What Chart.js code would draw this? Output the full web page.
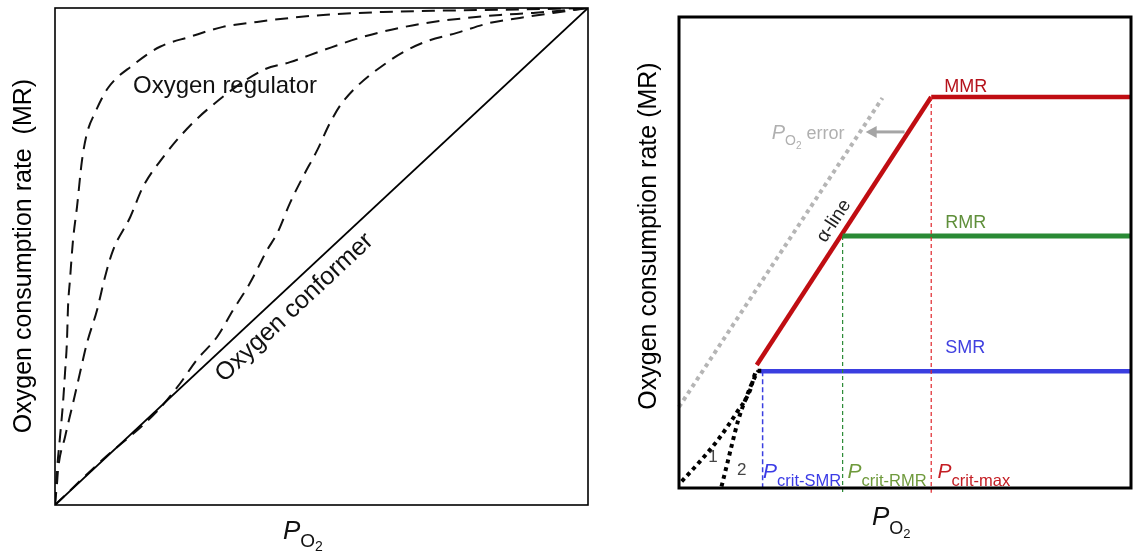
<!DOCTYPE html>
<html>
<head>
<meta charset="utf-8">
<script src="https://cdn.jsdelivr.net/npm/chart.js@4"></script>
<style>
  body { margin: 0; background: #fff; }
  canvas { position: absolute; top: 0; }
  #left { left: 0; }
  #right { left: 620px; }
</style>
</head>
<body>
<canvas id="left" width="600" height="552"></canvas>
<canvas id="right" width="514" height="552"></canvas>
<script>
// --- left panel: regulator vs conformer (arbitrary units 0-100) ---
const conformerX = [0, 100];
const conformerY = [0, 100];
const reg1X = [0, 0.38, 0.94, 1.5, 1.88, 2.25, 2.44, 2.81, 3.38, 4.13, 5.07, 6.0, 7.5, 9.94, 14.6, 19.7, 25.3, 31.5, 37.9, 44.1, 50.3, 61.5, 74.1, 86.7, 100];
const reg1Y = [0, 7.0, 13.7, 20.5, 26.6, 33.2, 39.8, 45.3, 53.3, 60.0, 69.4, 74.8, 78.9, 83.9, 88.5, 92.2, 94.2, 96.2, 97.2, 98.0, 98.6, 99.2, 99.5, 99.7, 100];
const reg2X = [0, 0.38, 0.56, 1.88, 3.38, 4.69, 6.0, 7.88, 9.38, 10.9, 14.1, 16.5, 20.3, 24.0, 28.5, 39.0, 44.1, 50.3, 57.8, 64.7, 70.9, 77.3, 83.5, 89.7, 100];
const reg2Y = [0, 4.4, 7.0, 13.7, 20.5, 26.6, 32.6, 39.2, 45.9, 51.3, 57.9, 64.0, 70.0, 74.8, 79.5, 87.5, 89.1, 91.5, 94.2, 96.0, 97.2, 98.0, 98.6, 99.0, 100];
const reg3X = [0, 8.4, 19.1, 23.5, 26.6, 30.4, 33.4, 36.6, 39.8, 41.7, 44.1, 46.5, 49.2, 51.6, 54.0, 62.9, 69.0, 75.4, 81.6, 87.2, 93.4, 100];
const reg3Y = [0, 8.6, 18.8, 24.5, 29.2, 33.8, 39.2, 44.7, 51.3, 54.7, 60.8, 66.0, 71.4, 76.9, 81.1, 89.5, 93.0, 95.0, 97.0, 98.0, 99.0, 100];

// --- right panel: Pcrit diagram ---
const smrLevel = 24.8;
const rmrLevel = 53.5;
const mmrLevel = 83.0;
const pcritSMR = 18.5;
const pcritRMR = 36.2;
const pcritMax = 55.8;
const alphaX = [17.2, 55.8];
const alphaY = [26.1, 83.0];
const errorX = [0, 45.0];
const errorY = [17.2, 82.8];
const dot1X = [0.6, 4.6, 8.6, 12.7, 15.7, 16.8, 17.2, 18.2];
const dot1Y = [1.4, 5.6, 10.2, 15.9, 20.7, 24.2, 24.9, 24.9];
const dot2X = [9.4, 10.5, 11.6, 13.1, 14.9, 16.8, 17.6];
const dot2Y = [0.3, 4.5, 8.8, 14.4, 19.3, 23.6, 24.9];

const FONT = '"Liberation Sans", Arial, sans-serif';

function pts(xs, ys) {
  return xs.map((x, i) => ({ x: x, y: ys[i] }));
}

// text with subscript pieces: [{t, size, dy, italic}]
function drawParts(ctx, x, y, parts, color) {
  ctx.fillStyle = color;
  ctx.textBaseline = 'alphabetic';
  ctx.textAlign = 'left';
  parts.forEach(p => {
    ctx.font = (p.italic ? 'italic ' : '') + p.size + 'px ' + FONT;
    ctx.fillText(p.t, x, y + (p.dy || 0));
    x += ctx.measureText(p.t).width;
  });
}

function baseOptions(pad) {
  return {
    responsive: false,
    animation: false,
    layout: { padding: pad },
    elements: { point: { radius: 0 } },
    plugins: { legend: { display: false }, tooltip: { enabled: false } },
    scales: {
      x: { type: 'linear', min: 0, max: 100, display: false },
      y: { type: 'linear', min: 0, max: 100, display: false }
    }
  };
}

const leftDecor = {
  id: 'leftDecor',
  afterDatasetsDraw(chart) {
    const ctx = chart.ctx, a = chart.chartArea;
    const xs = chart.scales.x, ys = chart.scales.y;
    ctx.save();
    ctx.strokeStyle = '#000';
    ctx.lineWidth = 1.6;
    ctx.strokeRect(a.left, a.top, a.right - a.left, a.bottom - a.top);

    ctx.fillStyle = '#111';
    ctx.font = '24px ' + FONT;
    ctx.fillText('Oxygen regulator', 133, 93);

    // label along conformer line
    const x0 = xs.getPixelForValue(0), y0 = ys.getPixelForValue(0);
    const x1 = xs.getPixelForValue(100), y1 = ys.getPixelForValue(100);
    const ang = Math.atan2(y1 - y0, x1 - x0);
    const px = xs.getPixelForValue(42.5), py = ys.getPixelForValue(42.5);
    ctx.translate(px, py);
    ctx.rotate(ang);
    ctx.textAlign = 'center';
    ctx.textBaseline = 'alphabetic';
    ctx.font = '25px ' + FONT;
    ctx.fillText('Oxygen conformer', 0, 26);
    ctx.restore();

    ctx.save();
    ctx.translate(24, 256);
    ctx.rotate(-Math.PI / 2);
    ctx.fillStyle = '#000';
    ctx.textAlign = 'center';
    ctx.textBaseline = 'middle';
    ctx.font = '25px ' + FONT;
    ctx.fillText('Oxygen consumption rate  (MR)', 0, 0);
    ctx.restore();

    ctx.save();
    drawParts(ctx, 283, 539, [
      { t: 'P', size: 26, italic: true },
      { t: 'O', size: 19, dy: 8 },
      { t: '2', size: 14, dy: 12 }
    ], '#111');
    ctx.restore();
  }
};

new Chart(document.getElementById('left'), {
  type: 'line',
  data: {
    datasets: [
      { data: pts(conformerX, conformerY), borderColor: '#000', borderWidth: 1.8 },
      { data: pts(reg1X, reg1Y), borderColor: '#111', borderWidth: 2, borderDash: [13, 8], cubicInterpolationMode: 'monotone' },
      { data: pts(reg2X, reg2Y), borderColor: '#111', borderWidth: 2, borderDash: [13, 8], cubicInterpolationMode: 'monotone' },
      { data: pts(reg3X, reg3Y), borderColor: '#111', borderWidth: 2, borderDash: [13, 8], cubicInterpolationMode: 'monotone' }
    ]
  },
  options: baseOptions({ left: 55, right: 12, top: 8, bottom: 47 }),
  plugins: [leftDecor]
});

const RED = '#c00d12', GREEN = '#2a8a35', BLUE = '#3a3ee0', GREY = '#b5b5b5';

const rightDecor = {
  id: 'rightDecor',
  afterDatasetsDraw(chart) {
    const ctx = chart.ctx, a = chart.chartArea;
    const xs = chart.scales.x, ys = chart.scales.y;
    const X = v => xs.getPixelForValue(v), Y = v => ys.getPixelForValue(v);
    ctx.save();
    ctx.strokeStyle = '#000';
    ctx.lineWidth = 3;
    ctx.strokeRect(a.left, a.top, a.right - a.left, a.bottom - a.top);

    ctx.font = '18px ' + FONT;
    ctx.fillStyle = '#b5121b';
    ctx.fillText('MMR', X(58.7), Y(84.1));
    ctx.fillStyle = '#5f8f3a';
    ctx.fillText('RMR', X(58.9), Y(55.2));
    ctx.fillStyle = '#4040e0';
    ctx.fillText('SMR', X(58.9), Y(28.7));

    ctx.fillStyle = '#444';
    ctx.textAlign = 'center';
    ctx.textBaseline = 'middle';
    ctx.font = '17px ' + FONT;
    ctx.fillText('1', X(7.5), Y(6.6));
    ctx.fillText('2', X(13.9), Y(3.8));
    ctx.restore();

    // Pcrit labels
    const sub = (txt) => [
      { t: 'P', size: 21, italic: true },
      { t: txt, size: 16.5, dy: 8 }
    ];
    ctx.save();
    drawParts(ctx, X(18.6), Y(2.2), sub('crit-SMR'), '#3b3be6');
    drawParts(ctx, X(37.3), Y(2.2), sub('crit-RMR'), '#6f9a3c');
    drawParts(ctx, X(57.2), Y(2.2), sub('crit-max'), '#c41e24');
    drawParts(ctx, X(20.5), Y(74.2), [
      { t: 'P', size: 20, italic: true },
      { t: 'O', size: 14, dy: 6 },
      { t: '2', size: 10, dy: 10 },
      { t: ' error', size: 18 }
    ], '#b0b0b0');
    ctx.restore();

    // arrow pointing to the error line
    ctx.save();
    const ay = Y(75.6), ax0 = X(49.9), ax1 = X(41.3);
    ctx.strokeStyle = '#a5a5a5';
    ctx.fillStyle = '#a5a5a5';
    ctx.lineWidth = 3;
    ctx.beginPath();
    ctx.moveTo(ax0, ay);
    ctx.lineTo(ax1 + 8, ay);
    ctx.stroke();
    ctx.beginPath();
    ctx.moveTo(ax1, ay);
    ctx.lineTo(ax1 + 11, ay - 6);
    ctx.lineTo(ax1 + 11, ay + 6);
    ctx.closePath();
    ctx.fill();
    ctx.restore();

    // alpha-line label
    ctx.save();
    const ang = Math.atan2(Y(alphaY[1]) - Y(alphaY[0]), X(alphaX[1]) - X(alphaX[0]));
    ctx.translate(834 - 620, 221);
    ctx.rotate(ang);
    ctx.fillStyle = '#222';
    ctx.textAlign = 'center';
    ctx.textBaseline = 'middle';
    ctx.font = '19px ' + FONT;
    ctx.fillText('\u03b1-line', 0, 0);
    ctx.restore();

    ctx.save();
    ctx.translate(29, 236);
    ctx.rotate(-Math.PI / 2);
    ctx.fillStyle = '#000';
    ctx.textAlign = 'center';
    ctx.textBaseline = 'middle';
    ctx.font = '25px ' + FONT;
    ctx.fillText('Oxygen consumption rate (MR)', 0, 0);
    ctx.restore();

    ctx.save();
    drawParts(ctx, 252, 525, [
      { t: 'P', size: 26, italic: true },
      { t: 'O', size: 18, dy: 9 },
      { t: '2', size: 13, dy: 13 }
    ], '#111');
    ctx.restore();
  }
};

new Chart(document.getElementById('right'), {
  type: 'line',
  data: {
    datasets: [
      { data: pts(errorX, errorY), borderColor: GREY, borderWidth: 4, borderDash: [4, 4], clip: false },
      { data: pts(dot1X, dot1Y), borderColor: '#000', borderWidth: 4, borderDash: [4, 4], cubicInterpolationMode: 'monotone', clip: false },
      { data: pts(dot2X, dot2Y), borderColor: '#000', borderWidth: 4, borderDash: [4, 4], cubicInterpolationMode: 'monotone', clip: false },
      { data: pts([pcritSMR, pcritSMR], [smrLevel, 0]), borderColor: BLUE, borderWidth: 1.5, borderDash: [5, 3], clip: false },
      { data: pts([pcritRMR, pcritRMR], [rmrLevel, -1]), borderColor: GREEN, borderWidth: 1.2, borderDash: [4, 3], clip: false },
      { data: pts([pcritMax, pcritMax], [mmrLevel, -1]), borderColor: '#e0262c', borderWidth: 1.2, borderDash: [4, 3], clip: false },
      { data: pts([17.9, 100], [smrLevel, smrLevel]), borderColor: BLUE, borderWidth: 4.5, clip: false },
      { data: pts([pcritRMR, 100], [rmrLevel, rmrLevel]), borderColor: GREEN, borderWidth: 5, clip: false },
      { data: pts([pcritMax, 100], [mmrLevel, mmrLevel]), borderColor: RED, borderWidth: 4.5, clip: false },
      { data: pts(alphaX, alphaY), borderColor: RED, borderWidth: 4.5, borderCapStyle: 'butt', clip: false }
    ]
  },
  options: baseOptions({ left: 59, right: 3, top: 17, bottom: 64 }),
  plugins: [rightDecor]
});
</script>
</body>
</html>
